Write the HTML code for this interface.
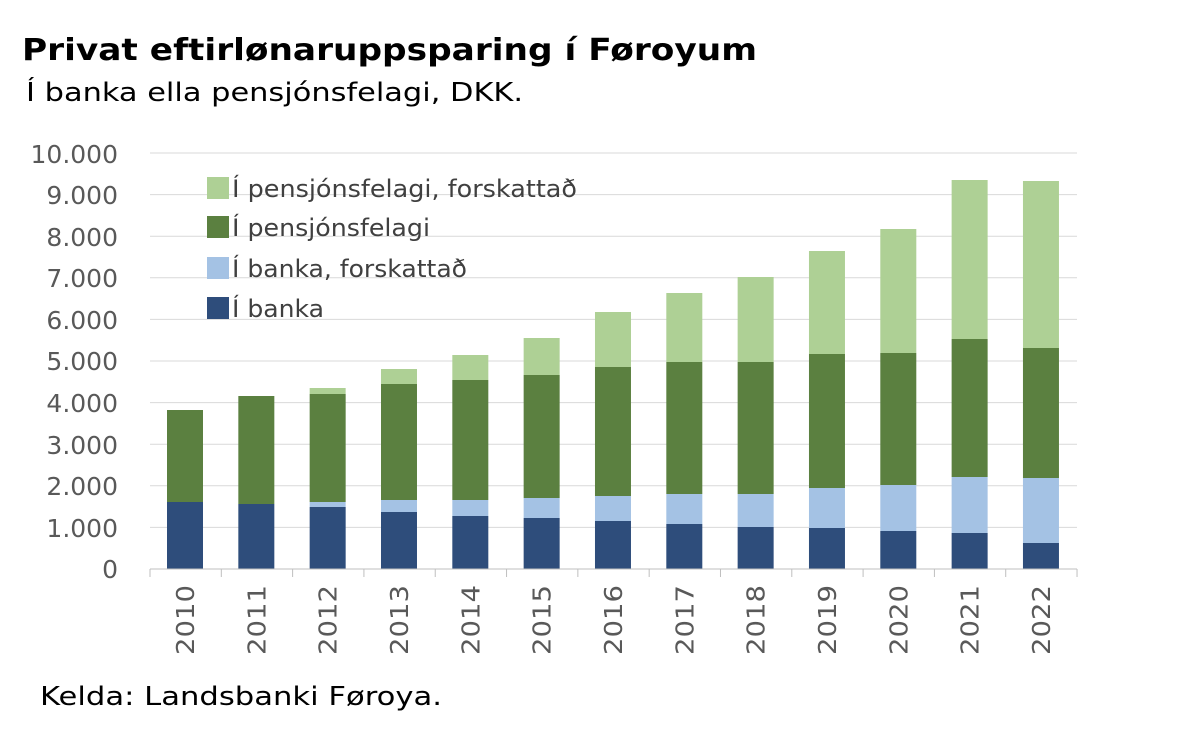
<!DOCTYPE html>
<html><head><meta charset="utf-8"><style>
body{margin:0;background:#fff;}
svg{display:block;font-family:"DejaVu Sans","Liberation Sans",sans-serif;}
</style></head><body>
<svg width="1202" height="740" viewBox="0 0 1202 740">
<rect width="1202" height="740" fill="#fff"/>
<text x="22" y="60" font-size="30" font-weight="bold" fill="#000" textLength="735" lengthAdjust="spacingAndGlyphs">Privat eftirlønaruppsparing í Føroyum</text>
<text x="26" y="101" font-size="26" fill="#000" textLength="497" lengthAdjust="spacingAndGlyphs">Í banka ella pensjónsfelagi, DKK.</text>
<g stroke="#d9d9d9" stroke-width="1">
<line x1="150" x2="1077" y1="527.4" y2="527.4"/><line x1="150" x2="1077" y1="485.8" y2="485.8"/>
<line x1="150" x2="1077" y1="444.2" y2="444.2"/><line x1="150" x2="1077" y1="402.6" y2="402.6"/>
<line x1="150" x2="1077" y1="361" y2="361"/><line x1="150" x2="1077" y1="319.4" y2="319.4"/>
<line x1="150" x2="1077" y1="277.8" y2="277.8"/><line x1="150" x2="1077" y1="236.2" y2="236.2"/>
<line x1="150" x2="1077" y1="194.6" y2="194.6"/><line x1="150" x2="1077" y1="153" y2="153"/>
</g>
<g font-size="25" fill="#595959" text-anchor="end">
<text x="118" y="578">0</text><text x="118" y="537">1.000</text><text x="118" y="495">2.000</text>
<text x="118" y="454">3.000</text><text x="118" y="412">4.000</text><text x="118" y="370">5.000</text>
<text x="118" y="329">6.000</text><text x="118" y="287">7.000</text><text x="118" y="246">8.000</text>
<text x="118" y="204">9.000</text><text x="118" y="163">10.000</text>
</g>
<g id="bars"></g>
<line x1="150" x2="1077" y1="569" y2="569" stroke="#bfbfbf"/>
<g id="ticks" stroke="#bfbfbf"></g>
<g id="xl" font-size="25" fill="#595959"></g>
<g font-size="24" fill="#404040">
<rect x="207" y="177" width="22" height="22" fill="#aed095"/><text x="232" y="197" textLength="345" lengthAdjust="spacingAndGlyphs">Í pensjónsfelagi, forskattað</text>
<rect x="207" y="216" width="22" height="22" fill="#5b8040"/><text x="232" y="236" textLength="198" lengthAdjust="spacingAndGlyphs">Í pensjónsfelagi</text>
<rect x="207" y="257" width="22" height="22" fill="#a4c2e4"/><text x="232" y="277" textLength="235" lengthAdjust="spacingAndGlyphs">Í banka, forskattað</text>
<rect x="207" y="297" width="22" height="22" fill="#2e4d7b"/><text x="232" y="317" textLength="92" lengthAdjust="spacingAndGlyphs">Í banka</text>
</g>
<text x="40" y="705" font-size="26" fill="#000" textLength="402" lengthAdjust="spacingAndGlyphs">Kelda: Landsbanki Føroya.</text>
<script>
var d=[[502,502,410,410],[504,504,396,396],[507,502,394,388],[512,500,384,369],[516,500,380,355],[518,498,375,338],[521,496,367,312],[524,494,362,293],[527,494,362,277],[528,488,354,251],[531,485,353,229],[533,477,339,180],[543,478,348,181]];
var c=["#2e4d7b","#a4c2e4","#5b8040","#aed095"];
var ns="http://www.w3.org/2000/svg",b=document.getElementById("bars"),t=document.getElementById("ticks"),xl=document.getElementById("xl");
for(var i=0;i<13;i++){var cx=185+i*71.33,prev=569;
for(var k=0;k<4;k++){var y=d[i][k];if(prev-y>0){var r=document.createElementNS(ns,"rect");r.setAttribute("x",cx-18);r.setAttribute("width",36);r.setAttribute("y",y);r.setAttribute("height",prev-y);r.setAttribute("fill",c[k]);b.appendChild(r);}prev=y;}
var tx=document.createElementNS(ns,"text");tx.setAttribute("transform","translate("+(cx+9)+",655) rotate(-90)");tx.setAttribute("textLength","70");tx.setAttribute("lengthAdjust","spacingAndGlyphs");tx.textContent=2010+i;xl.appendChild(tx);}
for(var i=0;i<=13;i++){var x=150+i*71.31;var l=document.createElementNS(ns,"line");l.setAttribute("x1",x);l.setAttribute("x2",x);l.setAttribute("y1",569);l.setAttribute("y2",577);t.appendChild(l);}
</script>
</svg>
</body></html>
